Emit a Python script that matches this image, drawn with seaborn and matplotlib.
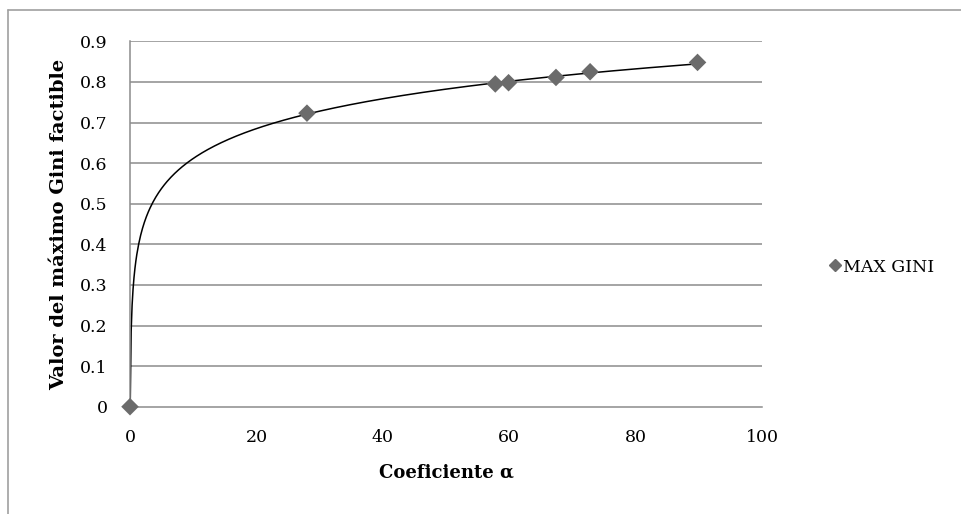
import numpy as np
import pandas as pd
import seaborn as sns
import matplotlib.pyplot as plt
from matplotlib.lines import Line2D

# values
alpha = [0.0, 28.0, 57.8, 59.9, 67.4, 72.8, 89.8]
max_gini = [0.0, 0.723, 0.795, 0.798, 0.811, 0.825, 0.848]
series_name = 'MAX GINI'
x_ticks = [0, 20, 40, 60, 80, 100]
y_ticks = [0, 0.1, 0.2, 0.3, 0.4, 0.5, 0.6, 0.7, 0.8, 0.9]

df = pd.DataFrame({'alpha': alpha, 'gini': max_gini})

# logarithmic trend line fitted on the positive points (like the spreadsheet trendline)
pos = df[df['alpha'] > 0]
slope, icpt = np.polyfit(np.log(pos['alpha']), pos['gini'], 1)
xs = np.linspace(np.exp(-icpt / slope), pos['alpha'].max(), 600)
trend = pd.DataFrame({'alpha': xs, 'gini': icpt + slope * np.log(xs)})

sns.set_theme(style='white')
plt.rcParams['font.family'] = ['DejaVu Serif']
plt.rcParams['text.color'] = 'black'
plt.rcParams['axes.labelcolor'] = 'black'

fig = plt.figure(figsize=(9.62, 5.14), dpi=100)
ax = fig.add_axes([130 / 962, 1 - 406.7 / 514, 632 / 962, 365.4 / 514])

grey = '#8c8c8c'
for v in y_ticks[1:]:
    ax.axhline(v, color=grey, lw=1.1, zorder=0)

sns.lineplot(data=trend, x='alpha', y='gini', ax=ax, color='black', lw=1.1,
             legend=False, zorder=2)
sns.scatterplot(data=df, x='alpha', y='gini', ax=ax, marker='D', s=80,
                color='#6b6b6b', edgecolor='none', zorder=3, clip_on=False)

ax.set_xlim(0, 100)
ax.set_ylim(0, 0.9)
ax.set_xticks(x_ticks)
ax.set_yticks(y_ticks)
ax.set_yticklabels(['0' if v == 0 else f'{v:.1f}' for v in y_ticks])
ax.tick_params(axis='both', labelsize=12.5, colors='black', width=1,
               direction='out', color=grey)
ax.tick_params(axis='y', length=5, pad=11)
ax.tick_params(axis='x', length=6, pad=10)
for side in ['top', 'right']:
    ax.spines[side].set_visible(False)
for side in ['left', 'bottom']:
    ax.spines[side].set_color(grey)
    ax.spines[side].set_linewidth(1.1)

ax.set_xlabel('Coeficiente α', fontsize=13, fontweight='bold', labelpad=13)
ax.set_ylabel('Valor del máximo Gini factible', fontsize=14, fontweight='bold', labelpad=9)

handle = Line2D([], [], marker='D', ls='none', color='#6b6b6b', markersize=6.5)
fig.legend([handle], [series_name], loc='center left', bbox_to_anchor=(819 / 962, 1 - 267 / 514),
           frameon=False, fontsize=12.5, handletextpad=0.0, handlelength=1.0, borderaxespad=0)

# outer chart-area frame (partially visible)
fig.add_artist(Line2D([8 / 962, 8 / 962], [0, 1 - 10 / 514], color='#a0a0a0', lw=1.2))
fig.add_artist(Line2D([8 / 962, 1], [1 - 10 / 514, 1 - 10 / 514], color='#a0a0a0', lw=1.2))

fig.savefig('out.png', dpi=100)
